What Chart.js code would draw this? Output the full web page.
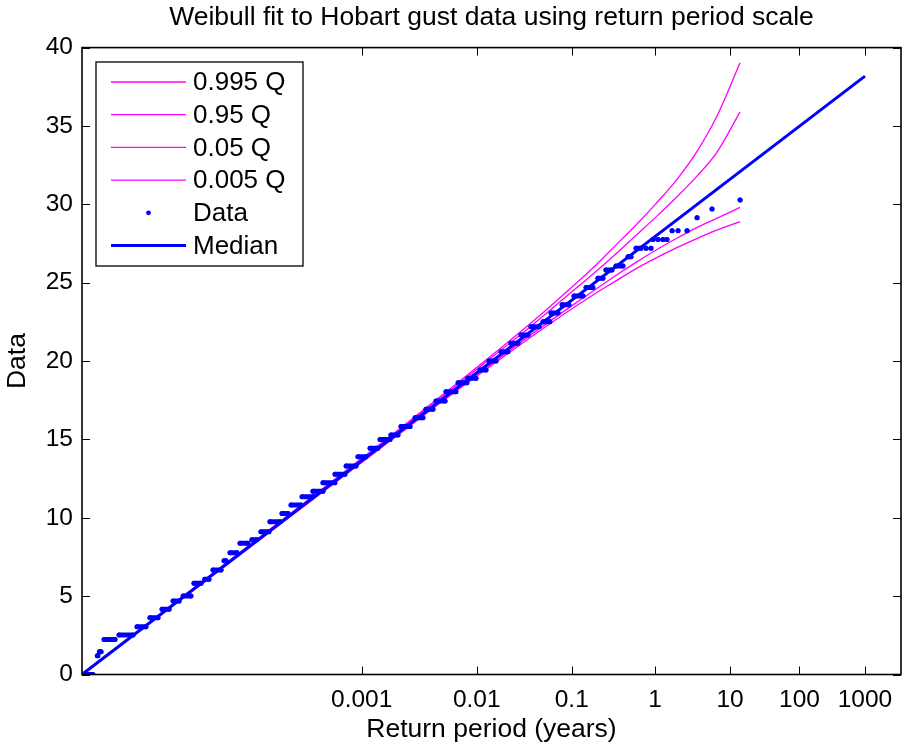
<!DOCTYPE html>
<html>
<head>
<meta charset="utf-8">
<script src="https://cdn.jsdelivr.net/npm/chart.js@4.4.1/dist/chart.umd.min.js"></script>
<style>
    html, body { margin: 0; padding: 0; background: #fff; }
</style>
</head>
<body>
<canvas id="graphique" width="905" height="747"></canvas>
<script>
// x axis is linear in the reduced variate, return periods are only tick labels
const tickPos = [13.66, 19.28, 23.92, 27.99, 31.65, 35.04, 38.24];
const tickLabels = ["0.001", "0.01", "0.1", "1", "10", "100", "1000"];

const medianX = [0, 38.24];
const medianY = [0, 38.18];

const curveX = [0, 5, 10, 15, 18, 20, 22, 24, 25, 26, 27, 28, 29, 30, 31, 32.14];
const q995 = [0, 5.05, 10.1, 15.15, 18.25, 20.35, 22.5, 24.8, 26.0, 27.3, 28.6, 30.0, 31.5, 33.3, 35.6, 39.03];
const q95 = [0, 5.03, 10.06, 15.1, 18.15, 20.22, 22.3, 24.5, 25.6, 26.75, 27.95, 29.15, 30.4, 31.75, 33.3, 35.9];
const q05 = [0, 4.97, 9.94, 14.9, 17.88, 19.82, 21.75, 23.6, 24.5, 25.4, 26.25, 27.05, 27.8, 28.5, 29.1, 29.8];
const q005 = [0, 4.95, 9.9, 14.85, 17.82, 19.72, 21.6, 23.4, 24.25, 25.05, 25.85, 26.55, 27.2, 27.8, 28.35, 28.9];

// observed gusts: runs of equal values (start / end in reduced variate)
const stepValue = [0, 1.2, 1.45, 2.24, 2.52, 3.05, 3.62, 4.16, 4.69, 5.01, 5.82, 6.07, 6.67, 7.26, 7.77, 8.37, 8.6, 9.11, 9.75, 10.28,
    10.81, 11.34, 11.7, 12.24, 12.77, 13.3, 13.9, 14.43, 15.0, 15.28, 15.83, 16.38, 16.92, 17.45, 18.04, 18.62, 18.9, 19.43, 20.0, 20.59,
    21.13, 21.66, 22.19, 22.51, 23.07, 23.6, 24.15, 24.7, 25.28, 25.81, 26.06, 26.65, 27.19];
const stepFrom = [0.1, 0.75, 0.85, 1.08, 1.81, 2.69, 3.32, 3.91, 4.45, 4.94, 5.47, 6.0, 6.4, 6.94, 7.23, 7.72, 8.3, 8.74, 9.18, 9.77,
    10.21, 10.75, 11.28, 11.77, 12.36, 12.9, 13.48, 14.07, 14.56, 15.09, 15.58, 16.27, 16.8, 17.29, 17.78, 18.37, 18.85, 19.44, 19.88, 20.47,
    20.95, 21.44, 21.93, 22.52, 22.91, 23.45, 24.03, 24.62, 25.2, 25.59, 26.08, 26.67, 27.06];
const stepTo = [0.53, 0.78, 0.93, 1.61, 2.49, 3.12, 3.71, 4.25, 4.74, 5.32, 5.81, 6.2, 6.79, 7.03, 7.57, 8.1, 8.54, 9.13, 9.67, 10.06,
    10.69, 11.28, 11.77, 12.35, 12.84, 13.38, 13.87, 14.45, 15.04, 15.43, 16.02, 16.65, 17.14, 17.73, 18.26, 18.8, 19.24, 19.73, 20.22, 20.8,
    21.29, 21.78, 22.32, 22.85, 23.25, 23.78, 24.47, 24.95, 25.44, 25.88, 26.42, 26.81, 27.3];

// single points in the upper tail
const tailX = [27.55, 27.79, 27.89, 28.13, 28.37, 28.57, 28.82, 29.11, 29.55, 30.04, 30.77, 32.14];
const tailY = [27.19, 27.19, 27.76, 27.76, 27.76, 27.76, 28.31, 28.31, 28.31, 29.14, 29.7, 30.27];

const FONT = "'Liberation Sans', Arial, Helvetica, sans-serif";
const BLUE = "#0000ff";
const MAGENTA = "#ff00ff";

const toPts = (xs, ys) => xs.map((x, i) => ({ x: x, y: ys[i] }));

const dataPts = [];
stepValue.forEach((v, i) => {
    dataPts.push({ x: stepFrom[i], y: v }, { x: stepTo[i], y: v }, { x: stepTo[i], y: null });
});
tailX.forEach((x, i) => {
    dataPts.push({ x: x, y: tailY[i] }, { x: x, y: null });
});

const quantile = (label, xs, ys) => ({
    label: label,
    data: toPts(xs, ys),
    borderColor: MAGENTA,
    borderWidth: 1.3,
    pointRadius: 0,
    cubicInterpolationMode: "monotone",
    order: 3
});

// ticks inside the box, on all four sides, and the box itself
const boxPlugin = {
    id: "box",
    afterDatasetsDraw(chart) {
        const { ctx, chartArea: a, scales } = chart;
        ctx.save();
        ctx.strokeStyle = "#000";
        ctx.lineWidth = 1;
        ctx.beginPath();
        scales.x.ticks.forEach(t => {
            const px = Math.round(scales.x.getPixelForValue(t.value)) + 0.5;
            ctx.moveTo(px, a.bottom); ctx.lineTo(px, a.bottom - 8);
            ctx.moveTo(px, a.top); ctx.lineTo(px, a.top + 8);
        });
        scales.y.ticks.forEach(t => {
            const py = Math.round(scales.y.getPixelForValue(t.value)) + 0.5;
            ctx.moveTo(a.left, py); ctx.lineTo(a.left + 8, py);
            ctx.moveTo(a.right, py); ctx.lineTo(a.right - 8, py);
        });
        ctx.stroke();
        ctx.lineWidth = 1.6;
        ctx.strokeRect(a.left, a.top, a.right - a.left, a.bottom - a.top);
        ctx.restore();
    }
};

// MATLAB style legend box in the upper left corner
const legendPlugin = {
    id: "matlabLegend",
    afterDraw(chart) {
        const { ctx } = chart;
        const x0 = 96, y0 = 62, w = 207, h = 204, row = 32.7;
        ctx.save();
        ctx.fillStyle = "#fff";
        ctx.fillRect(x0, y0, w, h);
        ctx.strokeStyle = "#000";
        ctx.lineWidth = 1.3;
        ctx.strokeRect(x0, y0, w, h);
        ctx.font = "26px " + FONT;
        ctx.textBaseline = "middle";
        ctx.textAlign = "left";
        chart.data.datasets.forEach((ds, i) => {
            if (!ds.label) return;
            const cy = y0 + 20 + i * row;
            if (ds.legendDot) {
                ctx.fillStyle = ds.pointBackgroundColor;
                ctx.beginPath();
                ctx.arc(148.5, cy, 2.4, 0, Math.PI * 2);
                ctx.fill();
            } else {
                ctx.strokeStyle = ds.borderColor;
                ctx.lineWidth = ds.borderWidth;
                ctx.beginPath();
                ctx.moveTo(111, cy);
                ctx.lineTo(186, cy);
                ctx.stroke();
            }
            ctx.fillStyle = "#000";
            ctx.fillText(ds.label, 193, cy + 1);
        });
        ctx.restore();
    }
};

new Chart(document.getElementById("graphique").getContext("2d"), {
    type: "line",
    data: {
        datasets: [
            quantile("0.995 Q", curveX, q995),
            quantile("0.95 Q", curveX, q95),
            quantile("0.05 Q", curveX, q05),
            quantile("0.005 Q", curveX, q005),
            {
                label: "Data",
                legendDot: true,
                data: dataPts,
                borderColor: BLUE,
                borderWidth: 5,
                borderCapStyle: "round",
                pointRadius: 2.5,
                pointBorderWidth: 0,
                pointBackgroundColor: BLUE,
                spanGaps: false,
                order: 2
            },
            {
                label: "Median",
                data: toPts(medianX, medianY),
                borderColor: BLUE,
                borderWidth: 3,
                pointRadius: 0,
                order: 1
            }
        ]
    },
    options: {
        responsive: false,
        animation: false,
        devicePixelRatio: 1,
        layout: { padding: { left: 0, right: 4, top: 0, bottom: 0 } },
        plugins: {
            legend: { display: false },
            tooltip: { enabled: false },
            title: {
                display: true,
                fullSize: false,
                text: "Weibull fit to Hobart gust data using return period scale",
                color: "#000",
                font: { family: FONT, size: 26.5, weight: "normal" },
                padding: { top: 1.5, bottom: 14.3 }
            }
        },
        scales: {
            x: {
                type: "linear",
                min: 0,
                max: 40,
                afterBuildTicks: (scale) => { scale.ticks = tickPos.map(v => ({ value: v })); },
                afterFit: (scale) => { scale.height = 72.5; },
                ticks: {
                    callback: (v, i) => tickLabels[i],
                    color: "#000",
                    font: { family: FONT, size: 24.5 },
                    padding: 11,
                    maxRotation: 0,
                    autoSkip: false
                },
                grid: { display: false, drawTicks: false },
                border: { display: false },
                title: {
                    display: true,
                    text: "Return period (years)",
                    color: "#000",
                    font: { family: FONT, size: 26.5 },
                    padding: { top: 0, bottom: 1 }
                }
            },
            y: {
                min: 0,
                max: 40,
                afterFit: (scale) => { scale.width = 82; },
                ticks: {
                    stepSize: 5,
                    color: "#000",
                    font: { family: FONT, size: 24.5 },
                    padding: 9
                },
                grid: { display: false, drawTicks: false },
                border: { display: false },
                title: {
                    display: true,
                    text: "Data",
                    color: "#000",
                    font: { family: FONT, size: 26.5 },
                    padding: { top: 2, bottom: 0 }
                }
            }
        }
    },
    plugins: [boxPlugin, legendPlugin]
});
</script>
</body>
</html>
